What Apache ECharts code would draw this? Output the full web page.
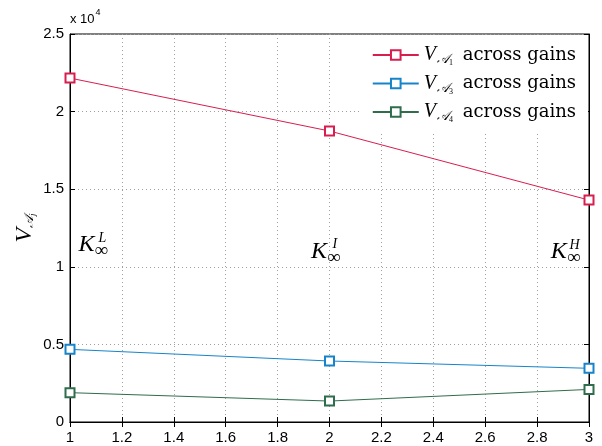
<!DOCTYPE html>
<html><head><meta charset="utf-8">
<script src="https://cdn.jsdelivr.net/npm/echarts@6/dist/echarts.min.js"></script>
<style>html,body{margin:0;padding:0;background:#fff}#c{width:602px;height:446px}</style>
</head><body><div id="c"></div>
<script>
const xValues = [1, 2, 3];
const seriesNames = ['VA1', 'VA3', 'VA4'];
const seriesSub = ['1', '3', '4'];
const valuesA1 = [22160, 18750, 14300];
const valuesA3 = [4680, 3930, 3460];
const valuesA4 = [1890, 1350, 2100];
const colors = ['#d81e4f', '#1784c9', '#2f6d4c'];
const yTickLabels = ['0', '0.5', '1', '1.5', '2', '2.5'];
const annotX = [1.09, 1.986, 2.91];
const annotY = [11400, 10980, 10950];
const annotSup = ['L', 'I', 'H'];

const allValues = [valuesA1, valuesA3, valuesA4];
const serif = '"Liberation Serif", "DejaVu Serif", serif';
const serifWide = '"DejaVu Serif", "Liberation Serif", serif';
const sans = '"Liberation Sans", Arial, sans-serif';

const chart = echarts.init(document.getElementById('c'), null, {renderer: 'canvas'});

const markData = [];
annotX.forEach((x, i) => {
  markData.push({coord: [x, annotY[i]], label: {formatter: '{k|K}{inf|∞}'}});
  markData.push({coord: [x, annotY[i]], label: {formatter: '{s|' + annotSup[i] + '}', offset: [9, -7]}});
});

const series = allValues.map((vals, i) => ({
  name: seriesNames[i],
  type: 'line',
  data: vals.map((v, j) => [xValues[j], v]),
  symbol: 'emptyRect',
  symbolSize: 9,
  showSymbol: true,
  lineStyle: {color: colors[i], width: 1},
  itemStyle: {color: colors[i], borderColor: colors[i], borderWidth: 1},
  emphasis: {disabled: true},
  animation: false,
  markPoint: i === 0 ? {
    symbol: 'rect', symbolSize: 0, animation: false,
    label: {
      show: true, position: 'inside', color: '#000',
      rich: {
        k: {fontFamily: serif, fontStyle: 'italic', fontSize: 24, color: '#000'},
        inf: {fontFamily: serif, fontSize: 19, color: '#000', padding: [12, 0, 0, 0]},
        s: {fontFamily: serif, fontStyle: 'italic', fontSize: 14, color: '#000'}
      }
    },
    data: markData
  } : undefined
}));

const legendRich = {
  v: {fontFamily: serif, fontStyle: 'italic', fontSize: 20, color: '#000'},
  a: {fontFamily: serif, fontStyle: 'italic', fontSize: 13, color: '#000', padding: [10, 0, 0, 1]},
  n: {fontFamily: serif, fontSize: 8, color: '#000', padding: [16, 0, 0, 0]},
  t: {fontFamily: serifWide, fontSize: 18, color: '#000', padding: [0, 0, 0, 4]}
};

chart.setOption({
  animation: false,
  backgroundColor: '#fff',
  grid: {left: 70, right: 13, top: 34, bottom: 24, show: true, borderColor: '#000', borderWidth: 1, backgroundColor: 'transparent'},
  legend: {
    show: true, orient: 'vertical', right: 14, top: 35,
    padding: [10, 12, 8, 10], itemGap: 6.5,
    backgroundColor: '#fff', borderWidth: 0,
    itemWidth: 46, itemHeight: 12,
    data: seriesNames,
    formatter: name => {
      const i = seriesNames.indexOf(name);
      return '{v|V}{a|𝒜}{n|' + seriesSub[i] + '}{t| across gains}';
    },
    textStyle: {rich: legendRich}
  },
  xAxis: [{
    type: 'value', min: 1, max: 3, interval: 0.2,
    axisLine: {show: true, lineStyle: {color: '#000'}},
    axisTick: {show: true, inside: true, length: 5, lineStyle: {color: '#000'}},
    axisLabel: {color: '#000', fontFamily: sans, fontSize: 15, margin: 8, formatter: v => String(+v.toFixed(1))},
    splitLine: {show: true, lineStyle: {color: '#a0a0a0', type: [1, 3], width: 1}}
  }, {
    type: 'value', min: 1, max: 3, interval: 0.2, position: 'top',
    axisLine: {show: true, lineStyle: {color: '#000'}},
    axisTick: {show: true, inside: true, length: 5, lineStyle: {color: '#000'}},
    axisLabel: {show: false}, splitLine: {show: false}
  }],
  yAxis: [{
    type: 'value', min: 0, max: 25000, interval: 5000,
    axisLine: {show: true, lineStyle: {color: '#000'}},
    axisTick: {show: true, inside: true, length: 5, lineStyle: {color: '#000'}},
    axisLabel: {color: '#000', fontFamily: sans, fontSize: 15, margin: 6, formatter: (v) => yTickLabels[Math.round(v / 5000)]},
    splitLine: {show: true, lineStyle: {color: '#a0a0a0', type: [1, 3], width: 1}},
    name: '{v|V}{a|𝒜}{j|j}', nameLocation: 'middle', nameRotate: 90, nameGap: 33,
    nameMoveOverlap: false,
    nameTextStyle: {rich: {
      v: {fontFamily: serif, fontStyle: 'italic', fontSize: 24, color: '#000'},
      a: {fontFamily: serif, fontStyle: 'italic', fontSize: 13, color: '#000', padding: [10, 0, 0, 0]},
      j: {fontFamily: serif, fontStyle: 'italic', fontSize: 9, color: '#000', padding: [16, 0, 0, 0]}
    }}
  }, {
    type: 'value', min: 0, max: 25000, interval: 5000, position: 'right',
    axisLine: {show: true, lineStyle: {color: '#000'}},
    axisTick: {show: true, inside: true, length: 5, lineStyle: {color: '#000'}},
    axisLabel: {show: false}, splitLine: {show: false}
  }],
  graphic: [{
    type: 'text', left: 70, top: 8, silent: true,
    style: {text: '{a|x 10}{b|4}', rich: {
      a: {fontFamily: sans, fontSize: 13, fill: '#000', padding: [7, 0, 0, 0]},
      b: {fontFamily: sans, fontSize: 9, fill: '#000', padding: [0, 0, 7, 1]}
    }}
  }],
  series: series
});
</script></body></html>
